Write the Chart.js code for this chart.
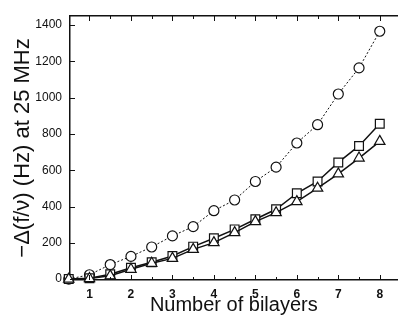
<!DOCTYPE html>
<html>
<head>
<meta charset="utf-8">
<script src="https://cdn.jsdelivr.net/npm/chart.js@4.4.1/dist/chart.umd.min.js"></script>
<style>
  html, body { margin: 0; padding: 0; background: #fff; }
  canvas { display: block; }
</style>
</head>
<body>
<canvas id="bilayerChart" width="405" height="321"></canvas>
<script>
// Dados
const bilayers = [0.5, 1, 1.5, 2, 2.5, 3, 3.5, 4, 4.5, 5, 5.5, 6, 6.5, 7, 7.5, 8];
const circles = [0, 24, 80, 125, 177, 238, 289, 377, 436, 538, 617, 750, 851, 1020, 1164, 1366];
const squares = [0, 5, 27, 62, 93, 127, 179, 225, 274, 330, 385, 473, 538, 643, 734, 856];
const triangles = [0, 3, 18, 54, 87, 114, 164, 201, 256, 317, 366, 427, 501, 580, 667, 759];
const xTicks = [1, 2, 3, 4, 5, 6, 7, 8];
const yTicks = [0, 200, 400, 600, 800, 1000, 1200, 1400];

const ink = '#111';
const toPoints = (ys) => ys.map((y, i) => ({ x: bilayers[i], y: y }));

// marcas de escala para dentro do gráfico
const innerTicks = {
    id: 'innerTicks',
    afterDraw(chart) {
        const { ctx, chartArea: a, scales: { x, y } } = chart;
        ctx.save();
        ctx.strokeStyle = ink;
        ctx.lineWidth = 1;
        ctx.beginPath();
        xTicks.forEach(v => {
            const px = Math.round(x.getPixelForValue(v)) + 0.5;
            ctx.moveTo(px, a.bottom); ctx.lineTo(px, a.bottom - 5);
            ctx.moveTo(px, a.top); ctx.lineTo(px, a.top + 5);
            const half = x.getPixelForValue(v - 0.5);
            if (half > a.left + 2) {
                const h = Math.round(half) + 0.5;
                ctx.moveTo(h, a.bottom); ctx.lineTo(h, a.bottom - 3);
                ctx.moveTo(h, a.top); ctx.lineTo(h, a.top + 3);
            }
        });
        yTicks.forEach(v => {
            const py = Math.round(y.getPixelForValue(v)) + 0.5;
            ctx.moveTo(a.left, py); ctx.lineTo(a.left + 5, py);
        });
        ctx.stroke();
        ctx.restore();
    }
};

document.addEventListener('DOMContentLoaded', function () {
    const ctx = document.getElementById('bilayerChart').getContext('2d');

    const common = {
        borderColor: ink,
        pointBorderColor: ink,
        pointBackgroundColor: '#fff',
        pointBorderWidth: 1.2,
        showLine: true,
        clip: false,
        tension: 0
    };

    const data = {
        datasets: [
            Object.assign({}, common, {
                label: 'triangles',
                data: toPoints(triangles),
                borderWidth: 1.5,
                pointStyle: 'triangle',
                pointRadius: 6
            }),
            Object.assign({}, common, {
                label: 'squares',
                data: toPoints(squares),
                borderWidth: 1.5,
                pointStyle: 'rect',
                pointRadius: 6.2
            }),
            Object.assign({}, common, {
                label: 'circles',
                data: toPoints(circles),
                borderWidth: 1,
                borderDash: [2, 2],
                pointStyle: 'circle',
                pointRadius: 5
            })
        ]
    };

    const config = {
        type: 'scatter',
        data: data,
        options: {
            responsive: false,
            animation: false,
            layout: { padding: 0 },
            plugins: {
                legend: { display: false },
                tooltip: { enabled: false }
            },
            scales: {
                x: {
                    type: 'linear',
                    position: 'bottom',
                    min: 0.53,
                    max: 8.43,
                    afterFit: s => { s.height = 41; },
                    grid: { display: false, drawTicks: false },
                    border: { display: true, color: ink, width: 1.5 },
                    afterBuildTicks: s => { s.ticks = xTicks.map(v => ({ value: v })); },
                    ticks: {
                        color: ink,
                        padding: 7,
                        callback: v => String(v),
                        font: { family: 'Liberation Sans', size: 12, weight: 'bold' }
                    },
                    title: {
                        display: true,
                        text: 'Number of bilayers',
                        color: ink,
                        padding: { top: 0, bottom: 4 },
                        font: { family: 'Liberation Sans', size: 20 }
                    }
                },
                x2: {
                    type: 'linear',
                    position: 'top',
                    min: 0.53,
                    max: 8.43,
                    afterFit: s => { s.height = 16; },
                    grid: { display: false, drawTicks: false },
                    border: { display: true, color: ink, width: 1.5 },
                    ticks: { display: false }
                },
                y: {
                    type: 'linear',
                    min: -5,
                    max: 1450,
                    afterFit: s => { s.width = 70; },
                    grid: { display: false, drawTicks: false },
                    border: { display: true, color: ink, width: 1.5 },
                    afterBuildTicks: s => { s.ticks = yTicks.map(v => ({ value: v })); },
                    ticks: {
                        color: ink,
                        padding: 8,
                        callback: v => String(v),
                        font: { family: 'Liberation Sans', size: 12 }
                    },
                    title: {
                        display: true,
                        text: '\u2212\u0394(f/\u03bd) (Hz) at 25 MHz',
                        color: ink,
                        padding: { top: 10, bottom: 0 },
                        font: { family: 'Liberation Sans', size: 22 }
                    }
                }
            }
        },
        plugins: [innerTicks]
    };

    new Chart(ctx, config);
});
</script>
</body>
</html>
